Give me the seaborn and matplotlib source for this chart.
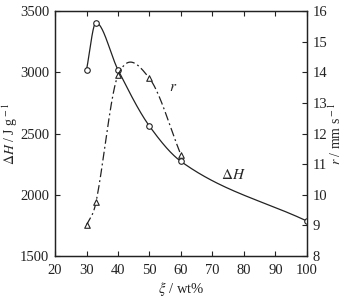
import numpy as np
import pandas as pd
import matplotlib
matplotlib.use("Agg")
import matplotlib.pyplot as plt
import seaborn as sns

# data
xi_H = [30, 33, 40, 50, 60, 100]
dH = [3020, 3405, 3020, 2560, 2272, 1785]
xi_r = [30, 33, 40, 50, 60]
r_vals = [9.0, 9.75, 13.9, 13.8, 11.3]
x_ticks = [20, 30, 40, 50, 60, 70, 80, 90, 100]
left_ticks = [1500, 2000, 2500, 3000, 3500]
right_ticks = [8, 9, 10, 11, 12, 13, 14, 15, 16]


def hermite(x, y, m, n=60):
    xs_all, ys_all = [], []
    for i in range(len(x) - 1):
        h = x[i + 1] - x[i]
        t = np.linspace(0, 1, n)
        h00 = 2 * t**3 - 3 * t**2 + 1
        h10 = t**3 - 2 * t**2 + t
        h01 = -2 * t**3 + 3 * t**2
        h11 = t**3 - t**2
        xs_all.append(x[i] + t * h)
        ys_all.append(h00 * y[i] + h10 * h * m[i] + h01 * y[i + 1] + h11 * h * m[i + 1])
    return np.concatenate(xs_all), np.concatenate(ys_all)


def cardinal_curve(x, y):
    x = np.asarray(x, float); y = np.asarray(y, float)
    k = len(x)
    m = np.empty(k)
    m[0] = (y[1] - y[0]) / (x[1] - x[0])
    m[-1] = (y[-1] - y[-2]) / (x[-1] - x[-2])
    for i in range(1, k - 1):
        m[i] = (y[i + 1] - y[i - 1]) / (x[i + 1] - x[i - 1])
    return hermite(x, y, m)


def pchip_curve(x, y):
    x = np.asarray(x, float); y = np.asarray(y, float)
    h = np.diff(x); d = np.diff(y) / h
    k = len(x)
    m = np.zeros(k)
    for i in range(1, k - 1):
        if d[i - 1] * d[i] > 0:
            w1 = 2 * h[i] + h[i - 1]; w2 = h[i] + 2 * h[i - 1]
            m[i] = (w1 + w2) / (w1 / d[i - 1] + w2 / d[i])
    m[0] = d[0]
    m[-1] = d[-1]
    return hermite(x, y, m)


sns.set_style("ticks")
plt.rcParams["font.family"] = ["Liberation Serif", "DejaVu Serif"]
plt.rcParams["mathtext.fontset"] = "stix"

fig = plt.figure(figsize=(3.46, 2.99), dpi=100)
ax = fig.add_axes([0.159, 0.144, 0.728, 0.819])
ax2 = ax.twinx()

hx, hy = pchip_curve(xi_H, dH)
rx, ry = cardinal_curve(xi_r, r_vals)

sns.lineplot(x=hx, y=hy, ax=ax, color="#222222", lw=0.9, sort=False)
sns.scatterplot(x=xi_H, y=dH, ax=ax, marker="o", s=16, facecolor="white",
                edgecolor="#222222", linewidth=0.8, zorder=5)
sns.lineplot(x=rx, y=ry, ax=ax2, color="#222222", lw=0.9, sort=False)
ax2.lines[-1].set_dashes([7, 2.5, 1.5, 2.5])
sns.scatterplot(x=xi_r, y=r_vals, ax=ax2, marker="^", s=16, facecolor="white",
                edgecolor="#222222", linewidth=0.8, zorder=5)

ax.set_xlim(20, 100)
ax.set_ylim(1500, 3500)
ax2.set_ylim(8, 16)
ax.set_xticks(x_ticks)
ax.set_yticks(left_ticks)
ax2.set_yticks(right_ticks)

for a in (ax, ax2):
    for s in a.spines.values():
        s.set_visible(True)
        s.set_linewidth(0.9)
        s.set_color("#222222")
ax.tick_params(axis="both", direction="in", length=3.5, width=0.8,
               labelsize=10.5, colors="#222222", top=True, pad=4)
ax.tick_params(axis="x", pad=6)
ax.tick_params(axis="y", right=False)
ax2.tick_params(axis="y", direction="in", length=3.5, width=0.8,
                labelsize=10.5, colors="#222222", pad=4)

ax.set_xlabel(r"$\xi$ / wt%", fontsize=10.5, labelpad=2)
ax.set_ylabel(r"$\Delta H$ / J g$^{\rm -1}$", fontsize=10, labelpad=0)
ax2.set_ylabel(r"$r$ / mm s$^{\rm -1}$", fontsize=10, labelpad=0)

ax2.text(57.5, 13.5, r"$r$", fontsize=11, ha="center", va="center")
ax.text(76.5, 2160, r"$\Delta H$", fontsize=11, ha="center", va="center")

fig.savefig("out.png", dpi=100)
